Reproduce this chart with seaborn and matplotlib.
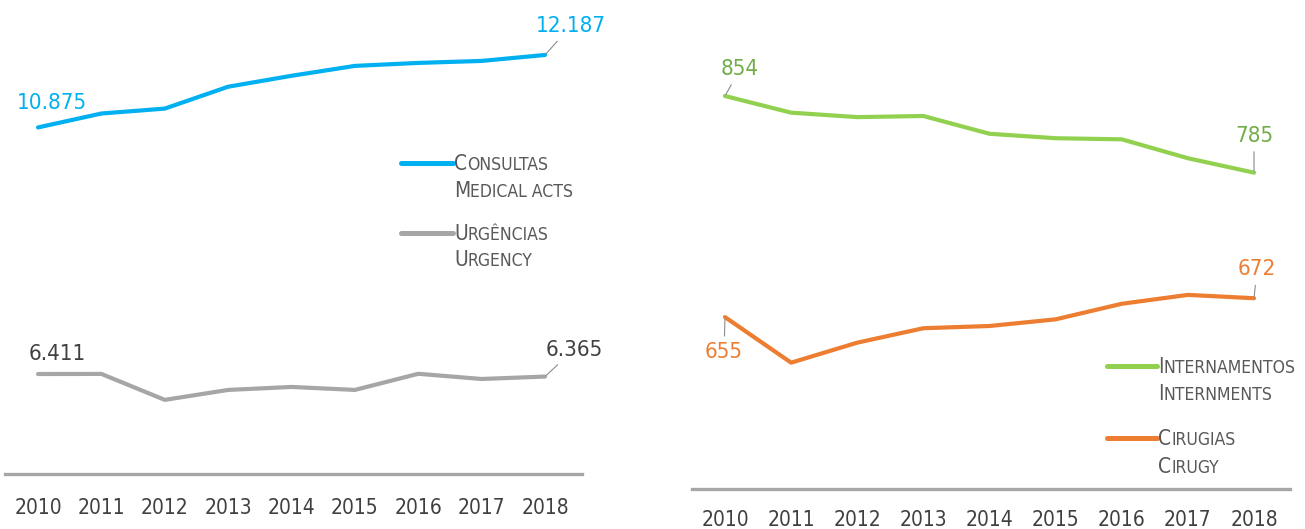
import numpy as np
import pandas as pd
import seaborn as sns
import matplotlib
matplotlib.use("Agg")
import matplotlib.pyplot as plt
from matplotlib.lines import Line2D
from matplotlib import font_manager

years = [2010, 2011, 2012, 2013, 2014, 2015, 2016, 2017, 2018]
consultas = [10875, 11127, 11216, 11612, 11810, 11989, 12043, 12079, 12187]
urgencias = [6411, 6413, 5943, 6123, 6177, 6123, 6415, 6321, 6365]
internamentos = [854, 839, 835, 836, 820, 816, 815, 798, 785]
cirugias = [655, 614, 632, 645, 647, 653, 667, 675, 672]

left_labels = [("C", "ONSULTAS", "M", "EDICAL ACTS"), ("U", "RGÊNCIAS", "U", "RGENCY")]
right_labels = [("I", "NTERNAMENTOS", "I", "NTERNMENTS"), ("C", "IRUGIAS", "C", "IRUGY")]

BLUE = "#00B0F0"
GRAY = "#A6A6A6"
GREEN = "#92D050"
ORANGE = "#ED7D31"
TXT = "#595959"

sns.set_theme(style="white")

fonts = font_manager.fontManager.ttflist
cond = [f for f in fonts if f.name == "DejaVu Sans" and f.stretch in ("condensed", "semi-condensed")]
narrow = [f for f in fonts if f.name == "Liberation Sans Narrow"]
if cond:
    FAM, STRETCH, SC = ["DejaVu Sans"], "condensed", 1.0
elif narrow:
    FAM, STRETCH, SC = ["Liberation Sans Narrow", "DejaVu Sans"], "normal", 1.08
else:
    FAM, STRETCH, SC = ["DejaVu Sans"], "normal", 0.9
plt.rcParams["font.family"] = FAM

W, H = 1305, 529
fig = plt.figure(figsize=(W / 100, H / 100), dpi=100)

def px_axes(x0, x1, y0, y1):
    return fig.add_axes([x0 / W, 1 - y1 / H, (x1 - x0) / W, (y1 - y0) / H])

axL = px_axes(5, 582, 20, 474)
axR = px_axes(692, 1290, 20, 489)

dfL = pd.DataFrame({"year": years * 2,
                    "value": consultas + urgencias,
                    "series": ["Consultas"] * 9 + ["Urgências"] * 9})
dfR = pd.DataFrame({"year": years * 2,
                    "value": internamentos + cirugias,
                    "series": ["Internamentos"] * 9 + ["Cirugias"] * 9})

sns.lineplot(data=dfL, x="year", y="value", hue="series",
             palette={"Consultas": BLUE, "Urgências": GRAY},
             linewidth=3.0, ax=axL, legend=False)
sns.lineplot(data=dfR, x="year", y="value", hue="series",
             palette={"Internamentos": GREEN, "Cirugias": ORANGE},
             linewidth=3.0, ax=axR, legend=False)
for ax in (axL, axR):
    for l in ax.lines:
        l.set_solid_capstyle("round")
        l.set_solid_joinstyle("round")

axL.set_xlim(2009.479, 2018.584)
axL.set_ylim(4601, 12820)
axR.set_xlim(2009.501, 2018.544)
axR.set_ylim(500.3, 922.4)

for ax, pad in ((axL, 17.5), (axR, 15)):
    ax.set_xlabel("")
    ax.set_ylabel("")
    ax.set_yticks([])
    ax.set_xticks(years)
    ax.set_xticklabels([str(y) for y in years], fontsize=15 * SC, color="#404040",
                       fontstretch=STRETCH)
    ax.tick_params(axis="x", length=0, pad=pad)
    for s in ("top", "right", "left"):
        ax.spines[s].set_visible(False)
    ax.spines["bottom"].set_color(GRAY)
    ax.spines["bottom"].set_linewidth(2.4)
    ax.patch.set_alpha(0)

def lab(ax, x, y, text, dx, dy, color, leader=True):
    kw = dict(xy=(x, y), xytext=(dx, -dy), textcoords="offset pixels",
              ha="center", va="center", fontsize=16 * SC, color=color,
              fontstretch=STRETCH)
    if leader:
        kw["arrowprops"] = dict(arrowstyle="-", color="#8C8C8C", lw=0.8,
                                shrinkA=2, shrinkB=1)
    ax.annotate(text, **kw)

lab(axL, 2010, consultas[0], "10.875", 14, -24, BLUE, leader=False)
lab(axL, 2018, consultas[-1], "12.187", 26, -29, BLUE)
lab(axL, 2010, urgencias[0], "6.411", 19, -20, "#404040", leader=False)
lab(axL, 2018, urgencias[-1], "6.365", 29, -27, "#404040")
lab(axR, 2010, internamentos[0], "854", 15, -27, "#70AD47")
lab(axR, 2018, internamentos[-1], "785", 0, -37, "#70AD47")
lab(axR, 2010, cirugias[0], "655", -1, 35, ORANGE)
lab(axR, 2018, cirugias[-1], "672", 3, -29, ORANGE)

def legend_item(x0, x1, y1, y2, color, parts):
    fig.add_artist(Line2D([x0 / W, x1 / W], [1 - y1 / H, 1 - y1 / H],
                          color=color, lw=3.6, solid_capstyle="round"))
    for big, small, yy in ((parts[0], parts[1], y1), (parts[2], parts[3], y2)):
        t = fig.text((x1 + 1) / W, 1 - (yy + 11) / H, big, fontsize=15 * SC, color=TXT,
                     ha="left", va="bottom", fontstretch=STRETCH)
        a = plt.Annotation(small, xy=(1, 0), xycoords=t, fontsize=12.6 * SC,
                           color=TXT, va="bottom", ha="left", fontstretch=STRETCH)
        fig.add_artist(a)

legend_item(401, 453, 163, 190, BLUE, left_labels[0])
legend_item(401, 453, 233, 259, GRAY, left_labels[1])
legend_item(1107, 1157, 366, 393, GREEN, right_labels[0])
legend_item(1107, 1157, 438, 466, ORANGE, right_labels[1])

fig.savefig("out.png", dpi=100)
